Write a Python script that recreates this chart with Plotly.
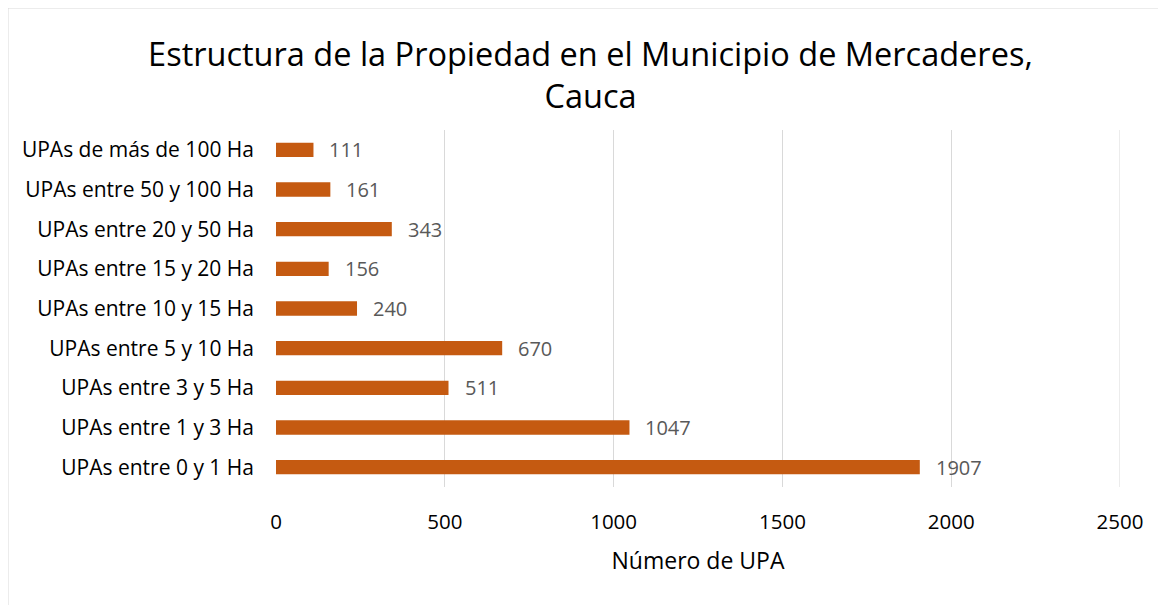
import plotly.graph_objects as go

categories = [
    "UPAs entre 0 y 1 Ha",
    "UPAs entre 1 y 3 Ha",
    "UPAs entre 3 y 5 Ha",
    "UPAs entre 5 y 10 Ha",
    "UPAs entre 10 y 15 Ha",
    "UPAs entre 15 y 20 Ha",
    "UPAs entre 20 y 50 Ha",
    "UPAs entre 50 y 100 Ha",
    "UPAs de más de 100 Ha",
]
upa_counts = [1907, 1047, 511, 670, 240, 156, 343, 161, 111]
x_ticks = [0, 500, 1000, 1500, 2000, 2500]

bar_color = "#C55A11"
grid_color = "#D9D9D9"
font_family = "'Open Sans', sans-serif"

# the page body adds an 8px margin, so the figure is a bit smaller than the window
W, H = 1158, 597
L, R, T, B = 268, 46, 122, 118
pw, ph = W - L - R, H - T - B

fig = go.Figure()
fig.add_trace(
    go.Bar(
        x=upa_counts,
        y=categories,
        orientation="h",
        marker=dict(color=bar_color, line=dict(width=0)),
        width=0.36,
        hoverinfo="x+y",
    )
)

# value labels to the right of each bar
for cat, val in zip(categories, upa_counts):
    fig.add_annotation(
        x=val,
        y=cat,
        text=str(val),
        showarrow=False,
        xanchor="left",
        xshift=14,
        font=dict(size=20, color="#595959", family=font_family),
    )

fig.update_layout(
    width=W,
    height=H,
    paper_bgcolor="white",
    plot_bgcolor="white",
    margin=dict(l=L, r=R, t=T, b=B),
    showlegend=False,
    font=dict(family=font_family, color="#000000"),
    title=dict(
        text="Estructura de la Propiedad en el Municipio de Mercaderes,<br>Cauca",
        x=0.503,
        xanchor="center",
        y=1 - 58 / H,
        yanchor="middle",
        font=dict(size=32.5, color="#000000", family=font_family),
    ),
    xaxis=dict(
        range=[0, 2500],
        tickvals=x_ticks,
        showgrid=True,
        gridcolor=grid_color,
        gridwidth=1,
        zeroline=False,
        showline=False,
        ticks="",
        ticklabelstandoff=20,
        tickfont=dict(size=20.5, color="#000000"),
        title=dict(text="Número de UPA", font=dict(size=23, color="#000000"), standoff=19),
    ),
    yaxis=dict(
        showgrid=False,
        zeroline=False,
        showline=False,
        ticks="",
        ticklabelstandoff=21,
        tickfont=dict(size=21, color="#000000"),
    ),
    shapes=[
        # last gridline, which plotly drops at the edge of the plot area
        dict(
            type="line",
            xref="x",
            yref="paper",
            x0=x_ticks[-1],
            x1=x_ticks[-1],
            y0=0,
            y1=1,
            line=dict(color=grid_color, width=1),
            layer="below",
        ),
        # chart border
        dict(
            type="rect",
            xref="paper",
            yref="paper",
            x0=(-0.5 - L) / pw,
            x1=(W + 20 - L) / pw,
            y0=-(B + 20) / ph,
            y1=(ph + T + 0.5) / ph,
            line=dict(color=grid_color, width=2),
        ),
    ],
)

fig.write_html("out.html")
